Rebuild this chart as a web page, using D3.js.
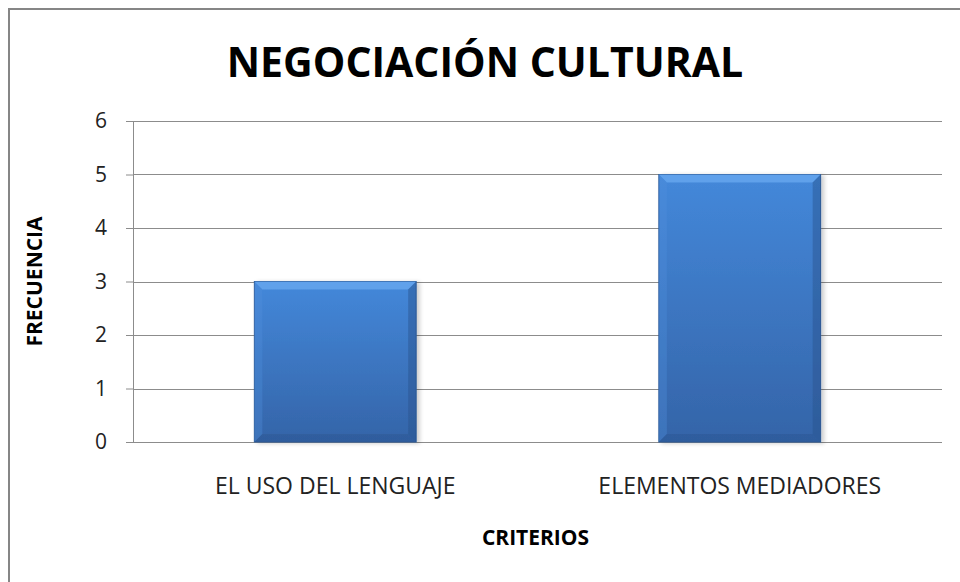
<!DOCTYPE html>
<html>
<head>
<meta charset="utf-8">
<script src="https://cdn.jsdelivr.net/npm/d3@7"></script>
<style>
  body { margin: 0; background: #fff; }
  svg { display: block; font-family: "Open Sans", sans-serif; }
</style>
</head>
<body>
<div class="main"></div>
<script>
let categories = ['EL USO DEL LENGUAJE', 'ELEMENTOS MEDIADORES']
let values = [3, 5]
let yTicks = [0, 1, 2, 3, 4, 5, 6]

let width = 960, height = 582
let margin = {top: 121, right: 18, bottom: 140, left: 133}
let plotW = width - margin.left - margin.right
let plotH = height - margin.top - margin.bottom
let bevel = 8

let svg = d3.select('.main').append('svg')
  .attr('width', width)
  .attr('height', height)

// outer chart border (runs off the right and bottom edge)
svg.append('rect')
  .attr('x', 9).attr('y', 9)
  .attr('width', width + 20).attr('height', height + 20)
  .attr('fill', '#fff')
  .attr('stroke', '#868686')
  .attr('stroke-width', 2)

let defs = svg.append('defs')
let grad = defs.append('linearGradient')
  .attr('id', 'barGrad').attr('x1', 0).attr('y1', 0).attr('x2', 0).attr('y2', 1)
grad.append('stop').attr('offset', '0%').attr('stop-color', '#4488da')
grad.append('stop').attr('offset', '100%').attr('stop-color', '#3464a8')

let shadow = defs.append('filter').attr('id', 'shadow')
  .attr('x', '-10%').attr('y', '-10%').attr('width', '130%').attr('height', '130%')
shadow.append('feGaussianBlur').attr('in', 'SourceAlpha').attr('stdDeviation', 2)
shadow.append('feOffset').attr('dx', 3).attr('dy', 1).attr('result', 'off')
shadow.append('feComponentTransfer').append('feFuncA').attr('type', 'linear').attr('slope', 0.2)
let merge = shadow.append('feMerge')
merge.append('feMergeNode')
merge.append('feMergeNode').attr('in', 'SourceGraphic')

let xScale = d3.scaleBand()
  .domain(categories)
  .range([0, plotW])
  .paddingInner(0.6)
  .paddingOuter(0.3)

let yScale = d3.scaleLinear()
  .domain([0, 6])
  .range([plotH, 0])

let g = svg.append('g')
  .attr('transform', `translate(${margin.left}, ${margin.top})`)

// gridlines
g.append('g')
  .selectAll('line').data(yTicks).enter().append('line')
    .attr('x1', 0).attr('x2', plotW)
    .attr('y1', d => Math.round(yScale(d)) + 0.5)
    .attr('y2', d => Math.round(yScale(d)) + 0.5)
    .attr('stroke', '#8c8c8c')
    .attr('stroke-width', 1)

// y axis
let yAxis = d3.axisLeft(yScale).tickValues(yTicks).tickFormat(d3.format('d')).tickSize(7).tickPadding(19)
let yAxisG = g.append('g').call(yAxis)
yAxisG.select('.domain').attr('stroke', '#8c8c8c')
yAxisG.selectAll('.tick line').attr('stroke', '#8c8c8c')
yAxisG.selectAll('.tick text')
  .attr('font-size', 21)
  .attr('font-family', '"Open Sans", sans-serif')
  .attr('fill', '#222')

// x axis labels
let xAxis = d3.axisBottom(xScale).tickSize(0).tickPadding(36)
let xAxisG = g.append('g').attr('transform', `translate(0, ${plotH})`).call(xAxis)
xAxisG.select('.domain').remove()
xAxisG.selectAll('.tick text')
  .attr('font-size', 23)
  .attr('font-family', '"Open Sans", sans-serif')
  .attr('fill', '#222')

// bars
let bars = g.append('g').selectAll('g.bar').data(values).enter().append('g')
  .attr('class', 'bar')
  .attr('filter', 'url(#shadow)')

bars.append('rect')
  .attr('x', (d, i) => xScale(categories[i]))
  .attr('y', d => yScale(d))
  .attr('width', xScale.bandwidth())
  .attr('height', d => plotH - yScale(d))
  .attr('fill', 'url(#barGrad)')
  .attr('stroke', '#2c5a97')
  .attr('stroke-width', 1)

// bevel faces
let bevelFaces = [
  {name: 'top', color: '#6aaaf0', opacity: 0.75},
  {name: 'left', color: '#4f8fdc', opacity: 0.35},
  {name: 'right', color: '#28518b', opacity: 0.45},
  {name: 'bottom', color: '#2b5591', opacity: 0.45}
]
bars.each(function (d, i) {
  let x0 = xScale(categories[i]), x1 = x0 + xScale.bandwidth()
  let y0 = yScale(d), y1 = yScale(0)
  let pts = {
    top: [[x0, y0], [x1, y0], [x1 - bevel, y0 + bevel], [x0 + bevel, y0 + bevel]],
    left: [[x0, y0], [x0 + bevel, y0 + bevel], [x0 + bevel, y1 - bevel], [x0, y1]],
    right: [[x1, y0], [x1, y1], [x1 - bevel, y1 - bevel], [x1 - bevel, y0 + bevel]],
    bottom: [[x0, y1], [x0 + bevel, y1 - bevel], [x1 - bevel, y1 - bevel], [x1, y1]]
  }
  d3.select(this).selectAll('polygon').data(bevelFaces).enter().append('polygon')
    .attr('points', f => pts[f.name].map(p => p.join(',')).join(' '))
    .attr('fill', f => f.color)
    .attr('opacity', f => f.opacity)
})

// title
svg.append('text')
  .attr('x', 485).attr('y', 77)
  .attr('text-anchor', 'middle')
  .attr('font-size', 41)
  .attr('font-weight', 'bold')
  .attr('fill', '#000')
  .text('NEGOCIACIÓN CULTURAL')

// axis titles
svg.append('text')
  .attr('x', margin.left + plotW / 2 - 2).attr('y', 545)
  .attr('text-anchor', 'middle')
  .attr('font-size', 21)
  .attr('font-weight', 'bold')
  .text('CRITERIOS')

svg.append('text')
  .attr('transform', `translate(42, ${margin.top + plotH / 2}) rotate(-90)`)
  .attr('text-anchor', 'middle')
  .attr('font-size', 21)
  .attr('font-weight', 'bold')
  .text('FRECUENCIA')
</script>
</body>
</html>
